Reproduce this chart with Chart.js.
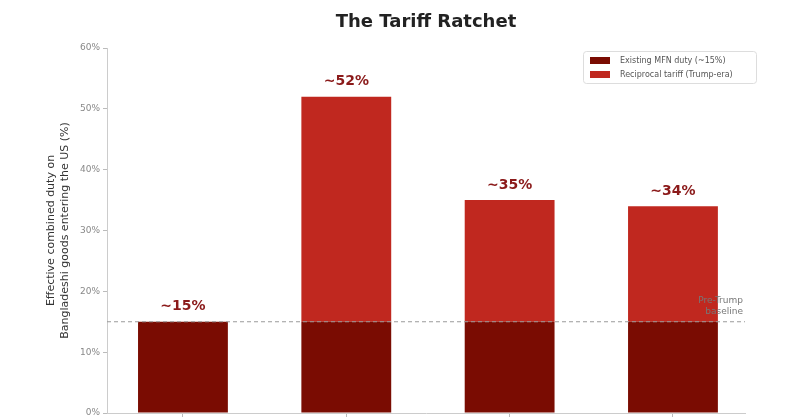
<!DOCTYPE html>
<html>
<head>
<meta charset="utf-8">
<script src="https://cdn.jsdelivr.net/npm/chart.js@4.4.1/dist/chart.umd.min.js"></script>
<style>
    html, body { margin: 0; padding: 0; background: #fff; overflow: hidden; }
    #wrap { width: 800px; height: 450px; position: relative; }
</style>
</head>
<body>
<div id="wrap"><canvas id="tariffChart"></canvas></div>
<script>
// Chart data
const categories = ['Pre-2025 (MFN only)', 'April 2025 (announced)', 'July 2025', 'August 2025'];
const mfnDuty = [15, 15, 15, 15];
const reciprocalTariff = [0, 37, 20, 19];
const yTicks = [0, 10, 20, 30, 40, 50, 60];
const baseline = 15;

const mfnColor = '#7a0c02';
const recipColor = '#c0281f';

// Category scale with matplotlib-like margins (slightly uneven edge padding)
class MarginCategoryScale extends Chart.CategoryScale {
    configure() {
        super.configure();
        this._startValue = -0.465;
        this._valueRange = 3.906;
    }
}
MarginCategoryScale.id = 'marginCategory';
MarginCategoryScale.defaults = Chart.CategoryScale.defaults;
Chart.register(MarginCategoryScale);

// Labels, baseline and legend drawn on top of the bars
const overlayPlugin = {
    id: 'overlay',
    afterDatasetsDraw(chart) {
        const ctx = chart.ctx;
        const area = chart.chartArea;
        const x = chart.scales.x;
        const y = chart.scales.y;

        // dashed baseline
        const by = y.getPixelForValue(baseline);
        ctx.save();
        ctx.strokeStyle = '#9a9a9a';
        ctx.lineWidth = 1;
        ctx.setLineDash([4, 3]);
        ctx.beginPath();
        ctx.moveTo(area.left, by);
        ctx.lineTo(area.right, by);
        ctx.stroke();
        ctx.setLineDash([]);

        ctx.fillStyle = '#777';
        ctx.font = '9px "DejaVu Sans"';
        ctx.textAlign = 'right';
        ctx.textBaseline = 'middle';
        ctx.fillText('Pre-Trump', area.right - 2, by - 21);
        ctx.fillText('baseline', area.right - 2, by - 10);

        // total labels
        ctx.fillStyle = '#8b1a1a';
        ctx.font = 'bold 14px "DejaVu Sans"';
        ctx.textAlign = 'center';
        ctx.textBaseline = 'bottom';
        categories.forEach((c, i) => {
            const total = mfnDuty[i] + reciprocalTariff[i];
            ctx.fillText('~' + total + '%', x.getPixelForValue(i), y.getPixelForValue(total) - 8);
        });

        // title
        ctx.fillStyle = '#222';
        ctx.font = 'bold 18px "DejaVu Sans"';
        ctx.textBaseline = 'middle';
        ctx.fillText('The Tariff Ratchet', (area.left + area.right) / 2, 22);

        // legend
        const lx = 583, ly = 51, lw = 173, lh = 32;
        ctx.fillStyle = 'rgba(255,255,255,0.9)';
        ctx.strokeStyle = '#dddddd';
        ctx.lineWidth = 1;
        ctx.beginPath();
        ctx.roundRect(lx + 0.5, ly + 0.5, lw, lh, 3);
        ctx.fill();
        ctx.stroke();
        const items = [[mfnColor, 'Existing MFN duty (~15%)'], [recipColor, 'Reciprocal tariff (Trump-era)']];
        ctx.font = '8px "DejaVu Sans"';
        ctx.textAlign = 'left';
        items.forEach((it, i) => {
            const iy = ly + 9 + i * 14;
            ctx.fillStyle = it[0];
            ctx.fillRect(lx + 7, iy - 3, 20, 7);
            ctx.fillStyle = '#555';
            ctx.fillText(it[1], lx + 37, iy + 1);
        });
        ctx.restore();
    }
};

new Chart(document.getElementById('tariffChart'), {
    type: 'bar',
    data: {
        labels: categories,
        datasets: [
            { label: 'Existing MFN duty (~15%)', data: mfnDuty, backgroundColor: mfnColor },
            { label: 'Reciprocal tariff (Trump-era)', data: reciprocalTariff, backgroundColor: recipColor }
        ]
    },
    options: {
        responsive: true,
        maintainAspectRatio: false,
        animation: false,
        layout: { padding: { top: 48, right: 55, left: 0, bottom: 0 } },
        datasets: { bar: { barPercentage: 0.55, categoryPercentage: 1 } },
        plugins: {
            legend: { display: false },
            tooltip: { enabled: false }
        },
        scales: {
            x: {
                type: 'marginCategory',
                stacked: true,
                grid: { display: true, offset: false, drawOnChartArea: false, tickLength: 4, color: '#bbb' },
                border: { color: '#ccc' },
                ticks: { color: '#333', font: { size: 10, family: 'DejaVu Sans' } },
                afterFit(scale) { scale.height = 37; }
            },
            y: {
                stacked: true,
                min: 0,
                max: 60,
                afterBuildTicks(scale) { scale.ticks = yTicks.map(v => ({ value: v })); },
                grid: { display: true, drawOnChartArea: false, tickLength: 4, color: '#bbb' },
                border: { color: '#ccc' },
                ticks: {
                    color: '#888',
                    padding: 3,
                    font: { size: 9, family: 'DejaVu Sans' },
                    callback: v => v + '%'
                },
                title: {
                    display: true,
                    text: ['Effective combined duty on', 'Bangladeshi goods entering the US (%)'],
                    color: '#333',
                    font: { size: 11, family: 'DejaVu Sans' },
                    padding: { top: 45, bottom: 6 }
                },
                afterFit(scale) { scale.width = 107; }
            }
        }
    },
    plugins: [overlayPlugin]
});
</script>
</body>
</html>
